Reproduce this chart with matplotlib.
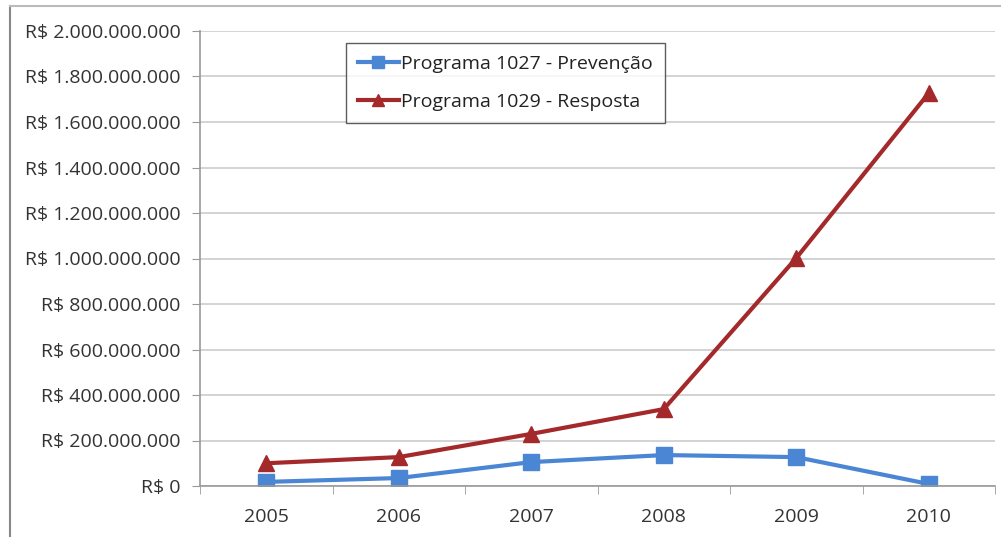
import numpy as np
import matplotlib.pyplot as plt
from matplotlib.ticker import FuncFormatter

plt.rcParams['font.family'] = ['Open Sans', 'DejaVu Sans']

anos = ['2005', '2006', '2007', '2008', '2009', '2010']
prevencao = [18e6, 35e6, 105e6, 136e6, 127e6, 9e6]
resposta = [100e6, 127e6, 229e6, 338e6, 1002e6, 1727e6]
y_ticks = np.arange(0, 2.0e9 + 1, 2e8)


def reais(v, pos):
    if v == 0:
        return 'R$ 0'
    return 'R$ ' + f'{v:,.0f}'.replace(',', '.')


fig = plt.figure(figsize=(10.01, 5.37), dpi=100)
ax = fig.add_axes([200 / 1001, 1 - 486 / 537, 795 / 1001, 455 / 537])

x = np.arange(len(anos))
ax.plot(x, prevencao, color='#4a86d4', lw=3, marker='s', ms=11,
        label='Programa 1027 - Prevenção')
ax.plot(x, resposta, color='#a3292b', lw=3, marker='^', ms=11,
        label='Programa 1029 - Resposta')

ax.set_xlim(-0.5, len(anos) - 0.5)
ax.set_ylim(0, 2.0e9)
ax.set_yticks(y_ticks)
ax.yaxis.set_major_formatter(FuncFormatter(reais))
ax.set_xticks(x)
ax.set_xticklabels(anos)
ax.set_xticks(np.arange(-0.5, len(anos)), minor=True)
ax.tick_params(axis='x', which='major', length=0, pad=16, labelsize=14, labelcolor='#333333')
ax.tick_params(axis='x', which='minor', length=6, color='#999999', direction='out')
ax.tick_params(axis='y', length=6, color='#999999', labelsize=14, labelcolor='#333333', pad=8)

ax.grid(axis='y', color='#cccccc', lw=1.2)
ax.set_axisbelow(True)
for s in ['top', 'right']:
    ax.spines[s].set_visible(False)
for s in ['left', 'bottom']:
    ax.spines[s].set_color('#999999')
    ax.spines[s].set_linewidth(1.2)

leg = ax.legend(loc='upper left', bbox_to_anchor=(146 / 795, 1 - 12 / 455),
                borderaxespad=0, fontsize=14, frameon=True, fancybox=False,
                handlelength=2.1, handletextpad=0.15, borderpad=0.6,
                labelspacing=1.05, markerscale=0.8)
leg.get_frame().set_edgecolor('#333333')
leg.get_frame().set_linewidth(1)
for t in leg.get_texts():
    t.set_color('#222222')

# moldura da figura (esquerda e topo)
fig.add_artist(plt.Line2D([10 / 1001, 10 / 1001], [0, 1 - 6 / 537], color='#888888', lw=1.5))
fig.add_artist(plt.Line2D([10 / 1001, 1], [1 - 6 / 537, 1 - 6 / 537], color='#bbbbbb', lw=1.5))

fig.savefig('out.png', dpi=100)
